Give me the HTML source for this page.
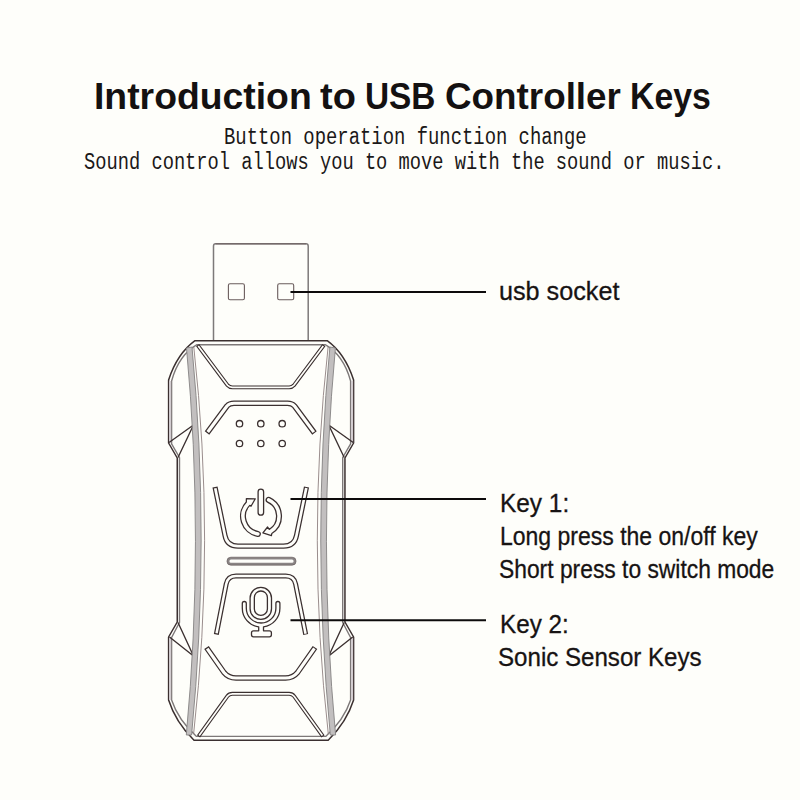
<!DOCTYPE html>
<html><head><meta charset="utf-8">
<style>
html,body{margin:0;padding:0;}
body{width:800px;height:800px;background:#fefefa;position:relative;overflow:hidden;}
.t{position:absolute;white-space:nowrap;line-height:1;transform-origin:0 0;}
.tw{font-family:"Liberation Sans",sans-serif;font-weight:bold;font-size:37px;color:#141111;top:78px;}
.sub{font-family:"Liberation Mono",monospace;font-size:23px;color:#1b1818;}
#s1{left:224px;top:127px;transform:scaleX(0.821);}
#s2{left:83.5px;top:152px;transform:scaleX(0.814);}
.lab{font-family:"Liberation Sans",sans-serif;font-size:25.5px;color:#171313;-webkit-text-stroke:0.3px #171313;}
svg{position:absolute;left:0;top:0;}
</style></head><body>
<svg width="800" height="800" viewBox="0 0 800 800">
<path d="M213.5,340.5 V246 Q213.5,243.8 215.7,243.8 H306 Q308.2,243.8 308.2,246 V340.5" fill="none" stroke="#7d7979" stroke-width="1.5"/>
<path d="M215.5,243.9 H306.2" fill="none" stroke="#6e6262" stroke-width="1"/>
<rect x="228.4" y="283.8" width="16" height="16" rx="1.6" fill="none" stroke="#6a5c5c" stroke-width="1.1"/>
<rect x="277.7" y="283.8" width="16" height="16" rx="1.6" fill="none" stroke="#6a5c5c" stroke-width="1.1"/>
<path d="M195,340.7 Q177.2,353.6 168.6,380 L168.6,443 L177.25,458 L177.25,622 L168.6,637 L168.6,700 Q175.5,722 194,740.3 L328.2,740.3 Q346.7,722 353.6,700 L353.6,637 L344.95,622 L344.95,458 L353.6,443 L353.6,380 Q345.0,353.6 327.2,340.7 Z" fill="none" stroke="#3b3030" stroke-width="1.5" stroke-linejoin="round"/>
<path d="M197,344.7 Q178.8,355 171.6,381 L171.6,443.8 L179.5,457.5 L179.5,622.5 L171.6,637.5 L171.6,700 Q178.2,720 196.5,736.4 L325.7,736.4 Q344.0,720 350.6,700 L350.6,637.5 L342.7,622.5 L342.7,457.5 L350.6,443.8 L350.6,381 Q343.4,355 325.2,344.7 Z" fill="none" stroke="#7d7878" stroke-width="1.4" stroke-linejoin="round"/>
<rect x="169.1" y="381" width="2" height="62" fill="#d3cdd0"/>
<rect x="169.1" y="637.5" width="2" height="62.5" fill="#d3cdd0"/>
<rect x="351.1" y="381" width="2" height="62" fill="#d3cdd0"/>
<rect x="351.1" y="637.5" width="2" height="62.5" fill="#d3cdd0"/>
<path d="M169,442.5 L193.5,425 L178,457.5" fill="none" stroke="#3b3030" stroke-width="1.35" stroke-linejoin="round"/>
<path d="M178,622.5 L193.5,656 L169.5,637" fill="none" stroke="#3b3030" stroke-width="1.35" stroke-linejoin="round"/>
<path d="M353.2,442.5 L328.7,425 L344.2,457.5" fill="none" stroke="#3b3030" stroke-width="1.35" stroke-linejoin="round"/>
<path d="M344.2,622.5 L328.7,656 L352.7,637" fill="none" stroke="#3b3030" stroke-width="1.35" stroke-linejoin="round"/>
<path d="M186.5,348 Q204.5,541 186.3,735 L191.6,735 Q210.5,541 192,347 Z" fill="#c2bfbf" stroke="#858282" stroke-width="0.9"/>
<path d="M193.8,347 Q215.5,541 193.6,734" fill="none" stroke="#8f8080" stroke-width="0.9"/>
<path d="M335.4,348 Q317.4,541 335.6,735 L330.3,735 Q311.4,541 329.9,347 Z" fill="#c2bfbf" stroke="#858282" stroke-width="0.9"/>
<path d="M328.1,347 Q306.4,541 328.3,734" fill="none" stroke="#8f8080" stroke-width="0.9"/>
<path d="M207,433 L227,406 Q229.5,403.2 234,403.2 H287.5 Q292.0,403.2 294.5,406 L314.5,433" fill="none" stroke="#3b3030" stroke-width="5.6" stroke-linecap="butt" stroke-linejoin="round"/>
<path d="M207,433 L227,406 Q229.5,403.2 234,403.2 H287.5 Q292.0,403.2 294.5,406 L314.5,433" fill="none" stroke="#fefefa" stroke-width="3.1" stroke-linecap="butt" stroke-linejoin="round" stroke-dasharray="0 1.25 133.76 12.5"/>
<path d="M206.5,647.5 L224,672.5 Q228.5,678 236,678 H285.5 Q293.0,678 297.5,672.5 L315.0,647.5" fill="none" stroke="#3b3030" stroke-width="5.6" stroke-linecap="butt" stroke-linejoin="round"/>
<path d="M206.5,647.5 L224,672.5 Q228.5,678 236,678 H285.5 Q293.0,678 297.5,672.5 L315.0,647.5" fill="none" stroke="#fefefa" stroke-width="3.1" stroke-linecap="butt" stroke-linejoin="round" stroke-dasharray="0 1.25 135.39 12.5"/>
<path d="M215,487 L225,535.5 Q227,546.2 238,546.2 H283.5 Q294.5,546.2 296.5,535.5 L306.5,487" fill="none" stroke="#3b3030" stroke-width="5.2" stroke-linecap="butt" stroke-linejoin="round"/>
<path d="M215,487 L225,535.5 Q227,546.2 238,546.2 H283.5 Q294.5,546.2 296.5,535.5 L306.5,487" fill="none" stroke="#fefefa" stroke-width="2.7" stroke-linecap="butt" stroke-linejoin="round" stroke-dasharray="0 1.25 179.26 12.5"/>
<path d="M216.3,634.5 L226.2,584 Q227.8,576 236,576 H285.8 Q294,576 295.6,584 L305.7,634.5" fill="none" stroke="#3b3030" stroke-width="5.0" stroke-linecap="butt" stroke-linejoin="round"/>
<path d="M216.3,634.5 L226.2,584 Q227.8,576 236,576 H285.8 Q294,576 295.6,584 L305.7,634.5" fill="none" stroke="#fefefa" stroke-width="2.5" stroke-linecap="butt" stroke-linejoin="round" stroke-dasharray="0 1.25 178.16 12.5"/>
<path d="M197.6,345.2 L227.6,385.3 Q229.4,387.4 232.4,387.4 H289.1 Q292.1,387.4 293.9,385.3 L323.9,345.2" fill="none" stroke="#3b3030" stroke-width="3.9" stroke-linecap="butt" stroke-linejoin="round"/>
<path d="M197.6,345.2 L227.6,385.3 Q229.4,387.4 232.4,387.4 H289.1 Q292.1,387.4 293.9,385.3 L323.9,345.2" fill="none" stroke="#fefefa" stroke-width="1.7" stroke-linecap="butt" stroke-linejoin="round" stroke-dasharray="0 1.1 165.5 12.2"/>
<path d="M198.5,736.4 L227.4,696.2 Q229.2,693.8 232.4,693.8 H289.1 Q292.3,693.8 294.1,696.2 L323.0,736.4" fill="none" stroke="#3b3030" stroke-width="3.9" stroke-linecap="butt" stroke-linejoin="round"/>
<path d="M198.5,736.4 L227.4,696.2 Q229.2,693.8 232.4,693.8 H289.1 Q292.3,693.8 294.1,696.2 L323.0,736.4" fill="none" stroke="#fefefa" stroke-width="1.7" stroke-linecap="butt" stroke-linejoin="round" stroke-dasharray="0 1.1 165.06 12.2"/>
<rect x="228.2" y="558.4" width="66.6" height="5.6" rx="2.8" fill="none" stroke="#8a8484" stroke-width="2.4"/>
<rect x="226.9" y="557.2" width="69.2" height="8" rx="4" fill="none" stroke="#5d5252" stroke-width="0.6"/>
<circle cx="239.5" cy="423.7" r="3.2" fill="none" stroke="#3b3030" stroke-width="1.3"/>
<circle cx="239.5" cy="443.5" r="3.2" fill="none" stroke="#3b3030" stroke-width="1.3"/>
<circle cx="260.8" cy="423.7" r="3.2" fill="none" stroke="#3b3030" stroke-width="1.3"/>
<circle cx="260.8" cy="443.5" r="3.2" fill="none" stroke="#3b3030" stroke-width="1.3"/>
<circle cx="282.2" cy="423.7" r="3.2" fill="none" stroke="#3b3030" stroke-width="1.3"/>
<circle cx="282.2" cy="443.5" r="3.2" fill="none" stroke="#3b3030" stroke-width="1.3"/>
<rect x="258.1" y="489.1" width="5.5" height="26.1" rx="2.75" fill="none" stroke="#3b3030" stroke-width="1.3"/>
<path d="M257.46,536.29 A20.4,20.4 0 0 1 246.33,502.03 L246.4,498.6 L255.3,498.8 L251,506.3 L249.78,505.36 A15.6,15.6 0 0 0 258.29,531.56 A2.3999999999999995,2.3999999999999995 0 0 1 257.46,536.29 Z" fill="none" stroke="#3b3030" stroke-width="1.3" stroke-linejoin="round"/>
<path d="M269.62,497.71 A20.4,20.4 0 0 1 271.81,533.5 L271.4,535.6 L262.9,532.9 L267.6,527 L269.27,529.43 A15.6,15.6 0 0 0 267.59,502.06 A2.3999999999999995,2.3999999999999995 0 0 1 269.62,497.71 Z" fill="none" stroke="#3b3030" stroke-width="1.3" stroke-linejoin="round"/>
<rect x="250.1" y="587.3" width="21.4" height="32.1" rx="10.7" fill="none" stroke="#3b3030" stroke-width="1.3"/>
<rect x="254.35" y="591" width="13.05" height="24.4" rx="6.5" fill="none" stroke="#3b3030" stroke-width="1.3"/>
<path d="M242.3,603.5 V608.2 A18.8,18.8 0 0 0 258.70000000000005,626.85 V630.8 H253.5 Q251.5,630.8 251.5,632.8 V634.8 Q251.5,636.8 253.5,636.8 H269.4 Q271.4,636.8 271.4,634.8 V632.8 Q271.4,630.8 269.4,630.8 H263.5 V626.85 A18.8,18.8 0 0 0 279.90000000000003,608.2 V603.5 A2,2 0 0 0 275.90000000000003,603.5 V608.2 A14.8,14.8 0 0 1 246.3,608.2 V603.5 A2,2 0 0 0 242.3,603.5 Z" fill="none" stroke="#3b3030" stroke-width="1.3" stroke-linejoin="round"/>
<line x1="290.5" y1="291.9" x2="486" y2="291.9" stroke="#0d0b0b" stroke-width="2"/>
<line x1="290.5" y1="499" x2="486" y2="499" stroke="#0d0b0b" stroke-width="2"/>
<line x1="290.5" y1="620.3" x2="486" y2="620.3" stroke="#0d0b0b" stroke-width="2"/>
</svg>
<div class="t tw" style="left:93.5px;transform:scaleX(1.009)">Introduction</div><div class="t tw" style="left:319.5px;transform:scaleX(1.026)">to</div><div class="t tw" style="left:364.9px;transform:scaleX(0.902)">USB</div><div class="t tw" style="left:444.8px;transform:scaleX(0.995)">Controller</div><div class="t tw" style="left:629.6px;transform:scaleX(0.914)">Keys</div>
<div class="t sub" id="s1">Button operation function change</div>
<div class="t sub" id="s2">Sound control allows you to move with the sound or music.</div>
<div class="t lab" id="l1" style="left:498.7px;top:278.5px;transform:scaleX(0.988)">usb socket</div>
<div class="t lab" id="l2" style="left:500px;top:490.5px;transform:scaleX(0.957)">Key 1:</div>
<div class="t lab" id="l3" style="left:499.5px;top:523.5px;transform:scaleX(0.9015)">Long press the on/off key</div>
<div class="t lab" id="l4" style="left:499px;top:556.5px;transform:scaleX(0.895)">Short press to switch mode</div>
<div class="t lab" id="l5" style="left:499.5px;top:611.5px;transform:scaleX(0.95)">Key 2:</div>
<div class="t lab" id="l6" style="left:498px;top:645px;transform:scaleX(0.945)">Sonic Sensor Keys</div>
</body></html>
